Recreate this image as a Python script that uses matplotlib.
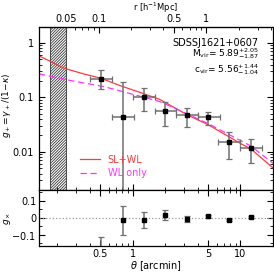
import numpy as np
import matplotlib
matplotlib.use('Agg')
import matplotlib.pyplot as plt

# measured tangential / cross shear
theta = [0.509, 0.808, 1.27, 2.01, 3.21, 5.05, 7.91, 12.6]
theta_lo = [0.406, 0.64, 1.0, 1.6, 2.54, 4.03, 6.25, 9.9]
theta_hi = [0.64, 1.03, 1.6, 2.54, 4.03, 6.4, 9.9, 15.7]
gplus = [0.218, 0.0428, 0.1, 0.0567, 0.048, 0.0428, 0.0152, 0.0118]
gplus_hi = [0.313, 0.194, 0.151, 0.0838, 0.065, 0.0543, 0.0234, 0.0173]
gplus_lo = [0.144, -0.108, 0.0567, 0.0293, 0.029, 0.0315, 0.00745, 0.0063]
gcross = [-0.25, -0.014, -0.016, 0.014, -0.008, 0.008, -0.014, 0.002]
gcross_err = [0.136, 0.086, 0.048, 0.03, 0.018, 0.011, 0.007, 0.006]

# model curves
th_slwl = [0.135, 0.233, 0.35, 0.509, 0.758, 1.11, 1.78, 3.2, 5.16, 9.8, 12.5, 20]
g_slwl = [0.58, 0.341, 0.27, 0.224, 0.165, 0.128, 0.092, 0.048, 0.0306, 0.0146, 0.0113, 0.0051]
th_wl = [0.135, 0.268, 0.547, 1.11, 1.78, 3.2, 5.16, 9.8, 12.5, 20]
g_wl = [0.27, 0.203, 0.157, 0.108, 0.084, 0.05, 0.032, 0.0165, 0.0128, 0.0062]

excl = [0.17, 0.24]   # excluded inner region [arcmin]
conv = 0.207          # h^-1 Mpc per arcmin

plt.rcParams['font.size'] = 6.5
plt.rcParams['hatch.linewidth'] = 0.6

fig = plt.figure(figsize=(2.74, 2.72), dpi=100)
ax = fig.add_axes([0.142, 0.3015, 0.854, 0.599])
ax2 = fig.add_axes([0.142, 0.0956, 0.854, 0.206], sharex=ax)

ax.set_xscale('log')
ax.set_yscale('log')
ax.set_xlim(0.135, 20)
ax.set_ylim(0.002, 1.95)

ax.axvspan(excl[0], excl[1], facecolor='white', edgecolor='#333333', hatch='////////////', lw=0.6)

ax.plot(th_slwl, g_slwl, color='#ff3b3b', lw=0.9, label='SL+WL')
ax.plot(th_wl, g_wl, color='#ff33ff', lw=0.9, ls=(0, (5, 3)), label='WL only')

th = np.array(theta)
xerr = [th - np.array(theta_lo), np.array(theta_hi) - th]
g = np.array(gplus)
yerr = [g - np.array(gplus_lo), np.array(gplus_hi) - g]
ax.errorbar(th, g, xerr=xerr, yerr=yerr, fmt='s', ms=3.3, mfc='black', mec='black',
            ecolor='#707070', elinewidth=1.1, capsize=2, capthick=0.9)

ax.legend(loc='upper left', bbox_to_anchor=(0.14, 0.27), frameon=False,
          handlelength=2.0, fontsize=7, labelspacing=0.35, labelcolor='linecolor')

ax.text(0.94, 0.905, 'SDSSJ1621+0607', transform=ax.transAxes, ha='right', va='center',
        fontsize=7)
ax.text(0.94, 0.835, r'M$_{\rm vir}$= 5.89$^{+2.05}_{-1.87}$', transform=ax.transAxes,
        ha='right', va='center', fontsize=6.5)
ax.text(0.94, 0.74, r'c$_{\rm vir}$= 5.56$^{+1.44}_{-1.04}$', transform=ax.transAxes,
        ha='right', va='center', fontsize=6.5)

ax.set_yticks([0.01, 0.1, 1])
ax.set_yticklabels(['0.01', '0.1', '1'])
ax.set_ylabel(r'$g_+\!=\!\gamma_+/(1\!-\!\kappa)$', fontsize=6.5)
ax.yaxis.set_label_coords(-0.11, 0.52)
ax.tick_params(which='both', direction='in', right=True, top=False, labelbottom=False)
ax.tick_params(which='major', length=4, width=0.8, labelsize=7)
ax.tick_params(which='minor', length=2, width=0.6)

# upper axis in physical radius
sec = ax.secondary_xaxis('top', functions=(lambda t: t * conv, lambda r: r / conv))
sec.set_xticks([0.05, 0.1, 0.5, 1])
sec.set_xticklabels(['0.05', '0.1', '0.5', '1'])
sec.set_xticks([0.04, 0.06, 0.07, 0.08, 0.09, 0.2, 0.3, 0.4, 0.6, 0.7, 0.8, 0.9, 2, 3, 4], minor=True)
sec.tick_params(which='both', direction='in')
sec.tick_params(which='major', length=4, width=0.8, pad=2.5, labelsize=7)
sec.tick_params(which='minor', length=2, width=0.6)
sec.set_xlabel(r'r [h$^{-1}$Mpc]', fontsize=6)
sec.xaxis.set_label_coords(0.5, 1.1, transform=ax.transAxes)

# cross shear panel
ax2.axhline(0, color='#999999', lw=0.9, ls=':')
ax2.errorbar(theta, gcross, yerr=gcross_err, fmt='s', ms=3.3, mfc='black', mec='black',
             ecolor='#707070', elinewidth=1.1, capsize=2, capthick=0.9)
ax2.set_ylim(-0.168, 0.165)
ax2.set_yticks([-0.1, 0, 0.1])
ax2.set_yticklabels([r'$-$0.1', '0', '0.1'])
ax2.set_yticks([-0.15, -0.05, 0.05, 0.15], minor=True)
ax2.set_xticks([0.5, 1, 5, 10])
ax2.set_xticklabels(['0.5', '1', '5', '10'])
ax2.set_ylabel(r'$g_\times$')
ax2.yaxis.set_label_coords(-0.11, 0.5)
ax2.set_xlabel(r'$\theta$ [arcmin]', labelpad=0, fontsize=7)
ax2.tick_params(which='both', direction='in', right=True, top=True)
ax2.tick_params(which='major', length=4, width=0.8, pad=2, labelsize=7)
ax2.tick_params(which='minor', length=2, width=0.6)

for a in (ax, ax2):
    for s in a.spines.values():
        s.set_linewidth(0.9)

fig.savefig('out.png', dpi=100)
